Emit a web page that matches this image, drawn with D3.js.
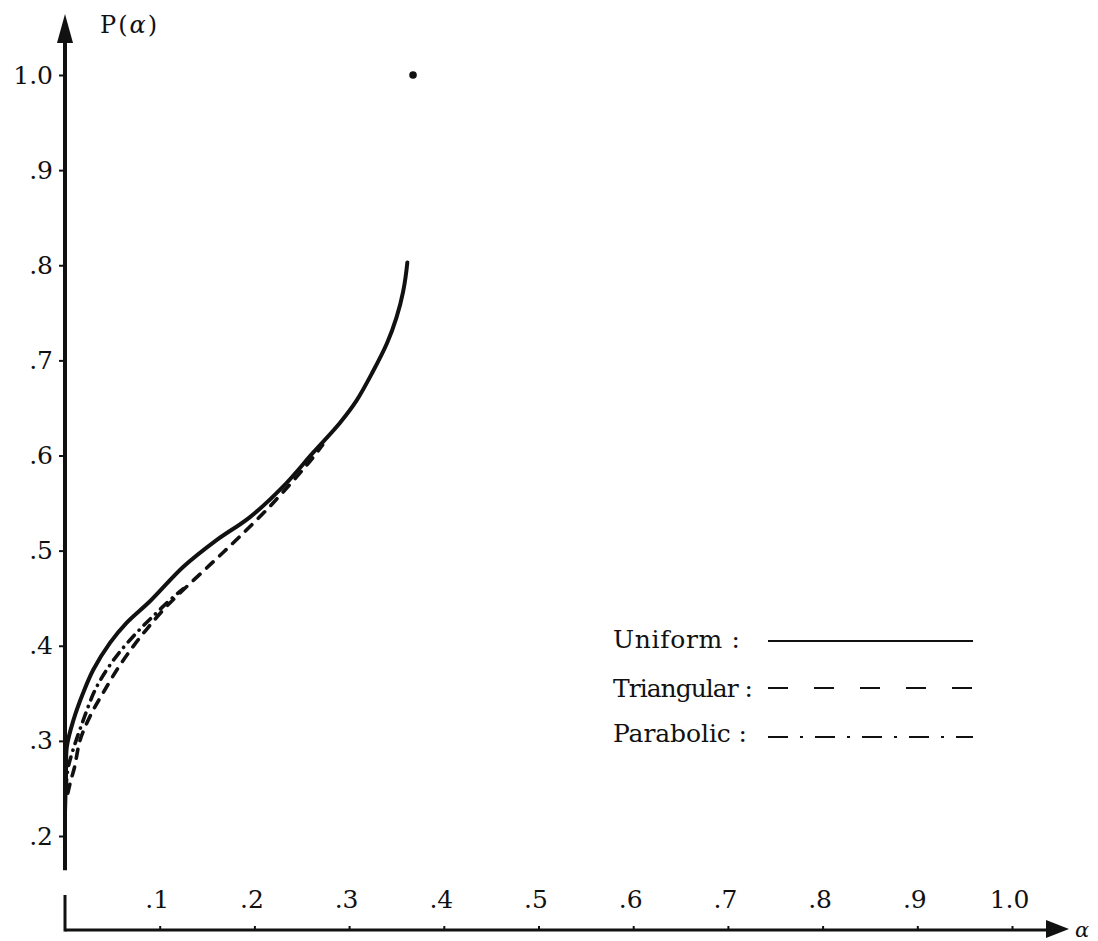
<!DOCTYPE html>
<html>
<head>
<meta charset="utf-8">
<script src="https://cdnjs.cloudflare.com/ajax/libs/d3/7.8.5/d3.min.js"></script>
<style>
    body { margin: 0; background: #fff; }
    svg { display: block; }
    text { font-family: "DejaVu Serif", serif; fill: #111; }
</style>
</head>
<body>
<svg id="chart"></svg>
<script>
// values
var uniformAlpha = [0, 0.001, 0.002, 0.009, 0.019, 0.03, 0.0475, 0.065, 0.09, 0.125, 0.16, 0.195, 0.23, 0.262, 0.29, 0.308, 0.325, 0.34, 0.35, 0.357, 0.3615];
var uniformP = [0.225, 0.26, 0.294, 0.322, 0.35, 0.375, 0.403, 0.424, 0.447, 0.483, 0.511, 0.535, 0.567, 0.603, 0.634, 0.658, 0.688, 0.718, 0.745, 0.772, 0.803];

var triangularAlpha = [0.003, 0.006, 0.01, 0.016, 0.028, 0.04, 0.055, 0.071, 0.086, 0.104, 0.121, 0.153, 0.1816, 0.213, 0.245, 0.262, 0.272];
var triangularP = [0.245, 0.258, 0.272, 0.301, 0.329, 0.35, 0.375, 0.398, 0.417, 0.438, 0.455, 0.485, 0.512, 0.543, 0.578, 0.598, 0.611];

var parabolicAlpha = [0.001, 0.003, 0.0074, 0.019, 0.033, 0.052, 0.075, 0.096, 0.113, 0.125];
var parabolicP = [0.25, 0.27, 0.287, 0.321, 0.356, 0.386, 0.413, 0.434, 0.45, 0.46];

var limitAlpha = [0.3675];
var limitP = [1.0];

var xTicks = [0.1, 0.2, 0.3, 0.4, 0.5, 0.6, 0.7, 0.8, 0.9, 1.0];
var xTickLabels = [".1", ".2", ".3", ".4", ".5", ".6", ".7", ".8", ".9", "1.0"];
var yTicks = [0.2, 0.3, 0.4, 0.5, 0.6, 0.7, 0.8, 0.9, 1.0];
var yTickLabels = [".2", ".3", ".4", ".5", ".6", ".7", ".8", ".9", "1.0"];

var legendNames = ["Uniform :", "Triangular :", "Parabolic :"];

var width = 1098,
    height = 941,
    ink = "#111";

var svg = d3.select("#chart")
    .attr("width", width)
    .attr("height", height);

var x = d3.scaleLinear().domain([0, 1]).range([65, 1012]);
var y = d3.scaleLinear().domain([0.2, 1.0]).range([836, 75]);
var axisY = 930;

// y axis (ticks + labels), line drawn by hand with the arrow
var yAxis = svg.append("g")
    .attr("transform", "translate(" + x(0) + ",0)")
    .call(d3.axisLeft(y).tickValues(yTicks).tickSize(6).tickPadding(6)
        .tickFormat(function(d, i) { return yTickLabels[i]; }));
yAxis.select(".domain").remove();
yAxis.selectAll(".tick line").attr("stroke", ink).attr("stroke-width", 2);
yAxis.selectAll(".tick text").attr("font-size", 25).attr("font-family", "DejaVu Serif").attr("fill", ink);

svg.append("line")
    .attr("x1", x(0)).attr("x2", x(0))
    .attr("y1", y(0.164)).attr("y2", 38)
    .attr("stroke", ink).attr("stroke-width", 4);
svg.append("path")
    .attr("d", "M" + x(0) + ",14 L" + (x(0) - 8) + ",43 L" + (x(0) + 8) + ",43 Z")
    .attr("fill", ink);

svg.append("text")
    .attr("x", 100).attr("y", 33)
    .attr("font-size", 24)
    .attr("letter-spacing", 2)
    .call(function(t) {
        t.append("tspan").text("P(");
        t.append("tspan").attr("font-style", "italic").text("α");
        t.append("tspan").text(")");
    });

// x axis: ticks point up, labels sit above
var xAxis = svg.append("g")
    .attr("transform", "translate(0," + axisY + ")")
    .call(d3.axisTop(x).tickValues(xTicks).tickSize(4).tickPadding(18)
        .tickFormat(function(d, i) { return xTickLabels[i]; }));
xAxis.select(".domain").remove();
xAxis.selectAll(".tick line").attr("stroke", ink).attr("stroke-width", 2);
xAxis.selectAll(".tick text").attr("font-size", 25).attr("font-family", "DejaVu Serif")
    .attr("fill", ink).attr("dx", -3);

svg.append("line")
    .attr("x1", x(0)).attr("x2", 1050)
    .attr("y1", axisY).attr("y2", axisY)
    .attr("stroke", ink).attr("stroke-width", 3);
svg.append("line")
    .attr("x1", x(0)).attr("x2", x(0))
    .attr("y1", 895).attr("y2", axisY + 1.5)
    .attr("stroke", ink).attr("stroke-width", 3);
svg.append("path")
    .attr("d", "M1069," + (axisY - 1) + " L1046," + (axisY - 10) + " L1046," + (axisY + 8) + " Z")
    .attr("fill", ink);
svg.append("text")
    .attr("x", 1075).attr("y", axisY + 7)
    .attr("font-size", 21)
    .attr("font-style", "italic")
    .text("α");

// curves
var line = d3.line()
    .x(function(d) { return x(d[0]); })
    .y(function(d) { return y(d[1]); })
    .curve(d3.curveCatmullRom.alpha(0.5));

var series = [
    { pts: d3.zip(triangularAlpha, triangularP), dash: "9,9", w: 3.6 },
    { pts: d3.zip(parabolicAlpha, parabolicP), dash: "9,7,0.1,7", w: 3.6 },
    { pts: d3.zip(uniformAlpha, uniformP), dash: null, w: 4 }
];

svg.append("g").selectAll("path")
    .data(series)
    .enter()
    .append("path")
    .attr("d", function(d) { return line(d.pts); })
    .attr("fill", "none")
    .attr("stroke", ink)
    .attr("stroke-width", function(d) { return d.w; })
    .attr("stroke-linecap", "round")
    .attr("stroke-dasharray", function(d) { return d.dash; });

svg.append("g").selectAll("circle")
    .data(d3.zip(limitAlpha, limitP))
    .enter()
    .append("circle")
    .attr("cx", function(d) { return x(d[0]); })
    .attr("cy", function(d) { return y(d[1]); })
    .attr("r", 3.8)
    .attr("fill", ink);

// legend
var legendBase = [648, 697, 742];
var legendLineY = [641, 688, 737];
var legendWidths = [127, 140, 134];
var legendDash = [null, "20,26", "20,12,3,12"];

var legend = svg.append("g").selectAll("g")
    .data(legendNames)
    .enter()
    .append("g");

legend.append("text")
    .attr("x", 613)
    .attr("y", function(d, i) { return legendBase[i]; })
    .attr("font-size", 25)
    .attr("textLength", function(d, i) { return legendWidths[i]; })
    .attr("lengthAdjust", "spacing")
    .text(function(d) { return d; });

legend.append("line")
    .attr("x1", 768)
    .attr("x2", 973)
    .attr("y1", function(d, i) { return legendLineY[i]; })
    .attr("y2", function(d, i) { return legendLineY[i]; })
    .attr("stroke", ink)
    .attr("stroke-width", 2.2)
    .attr("stroke-dasharray", function(d, i) { return legendDash[i]; });
</script>
</body>
</html>
